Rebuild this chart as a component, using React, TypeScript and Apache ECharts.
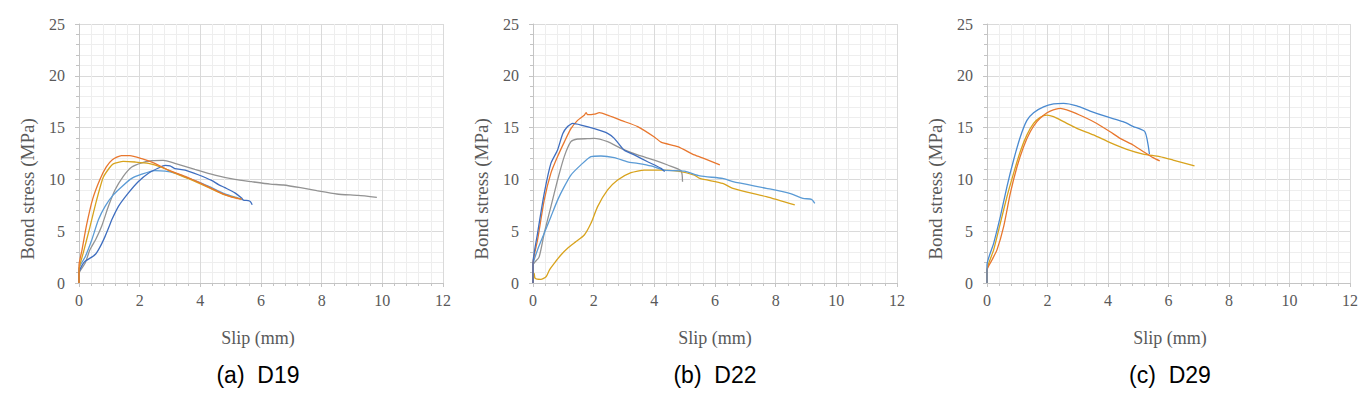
import React, { useEffect, useRef } from "react";
import * as echarts from "echarts";

// ---------- data (slip mm, bond stress MPa) ----------
const xTicks = [0, 2, 4, 6, 8, 10, 12];
const yTicks = [0, 5, 10, 15, 20, 25];
const panelCaptions = ["(a)  D19", "(b)  D22", "(c)  D29"];
const xAxisTitle = "Slip (mm)";
const yAxisTitle = "Bond stress (MPa)";

// Panel (a) D19
const d19Orange = [[0, 0], [0, 1.7], [0.1, 3.2], [0.25, 5.6], [0.45, 8.1], [0.69, 10.0], [0.9, 11.2], [1.1, 11.9], [1.4, 12.3], [1.68, 12.3], [2.07, 12.0], [2.5, 11.55], [2.95, 10.9], [3.5, 10.3], [4.04, 9.6], [4.6, 8.8], [5.03, 8.3], [5.36, 8.1]];
const d19Gold = [[0, 0], [0, 1.25], [0.14, 2.9], [0.36, 5.4], [0.58, 8.0], [0.8, 10.2], [1.0, 11.1], [1.13, 11.5], [1.46, 11.74], [1.85, 11.68], [2.29, 11.55], [2.73, 11.16], [3.16, 10.6], [3.71, 9.94], [4.26, 9.23], [4.81, 8.5], [5.25, 8.17], [5.35, 8.1]];
const d19Gray = [[0, 0], [0, 0.9], [0.2, 1.9], [0.36, 3.2], [0.55, 4.2], [0.75, 5.5], [0.97, 7.4], [1.19, 9.0], [1.46, 10.3], [1.74, 11.2], [2.07, 11.6], [2.4, 11.8], [2.78, 11.84], [3.16, 11.55], [3.82, 10.97], [4.48, 10.42], [5.14, 10.0], [5.69, 9.78], [6.3, 9.55], [6.74, 9.46], [7.3, 9.2], [7.84, 8.91], [8.5, 8.59], [9.2, 8.45], [9.82, 8.27]];
const d19LightBlue = [[0, 0], [0, 1.4], [0.2, 2.5], [0.42, 4.15], [0.64, 6.1], [0.86, 7.4], [1.13, 8.5], [1.41, 9.3], [1.74, 10.1], [2.07, 10.5], [2.5, 10.85], [2.84, 10.8], [3.16, 10.6], [3.71, 10.0], [4.26, 9.35], [4.81, 8.6], [5.25, 8.2], [5.4, 8.05]];
const d19DarkBlue = [[0, 0], [0, 1.0], [0.1, 1.7], [0.2, 2.1], [0.42, 2.5], [0.55, 2.8], [0.64, 3.2], [0.75, 3.8], [0.86, 4.5], [1.0, 5.5], [1.08, 6.1], [1.3, 7.4], [1.63, 8.7], [1.96, 9.8], [2.29, 10.6], [2.62, 11.1], [2.84, 11.35], [3.0, 11.3], [3.16, 11.05], [3.5, 10.9], [3.93, 10.45], [4.37, 9.9], [4.6, 9.5], [4.81, 9.2], [5.14, 8.7], [5.36, 8.2], [5.42, 8.0], [5.58, 7.95], [5.65, 7.85], [5.71, 7.55]];

// Panel (b) D22
const d22Orange = [[0, 0], [0, 1.9], [0.15, 4.15], [0.37, 8.0], [0.59, 10.6], [0.81, 12.2], [1.03, 13.6], [1.25, 14.9], [1.47, 15.7], [1.69, 16.2], [1.75, 16.45], [1.8, 16.25], [2.02, 16.3], [2.19, 16.44], [2.46, 16.2], [2.9, 15.7], [3.45, 15.1], [4.0, 14.1], [4.22, 13.6], [4.77, 13.16], [5.32, 12.36], [5.65, 12.0], [6.16, 11.4]];
const d22DarkBlue = [[0, 0], [0, 1.9], [0.15, 4.8], [0.37, 8.65], [0.59, 11.55], [0.81, 12.84], [0.98, 14.4], [1.14, 15.1], [1.31, 15.4], [1.58, 15.25], [2.02, 14.9], [2.46, 14.45], [2.68, 13.96], [3.0, 12.84], [3.34, 12.36], [3.78, 11.7], [4.22, 11.07], [4.34, 10.75]];
const d22Gray = [[0, 0], [0, 1.74], [0.2, 2.5], [0.37, 4.8], [0.59, 7.37], [0.81, 9.94], [1.03, 12.2], [1.25, 13.64], [1.47, 13.9], [1.8, 13.93], [2.02, 13.96], [2.46, 13.64], [2.9, 13.0], [3.45, 12.36], [4.0, 11.87], [4.44, 11.39], [4.88, 10.84], [4.93, 9.78]];
const d22LightBlue = [[0, 0], [0, 1.74], [0.15, 3.2], [0.37, 4.8], [0.59, 6.4], [0.81, 8.0], [1.03, 9.3], [1.25, 10.42], [1.58, 11.4], [1.91, 12.2], [2.24, 12.26], [2.68, 12.1], [3.12, 11.7], [3.45, 11.55], [3.89, 11.3], [4.33, 10.9], [4.99, 10.8], [5.5, 10.33], [6.25, 10.1], [6.59, 9.78], [7.69, 9.14], [8.46, 8.66], [8.9, 8.17], [9.18, 8.08], [9.29, 7.69]];
const d22Gold = [[0, 0], [0.04, 0.93], [0.07, 0.45], [0.26, 0.35], [0.43, 0.6], [0.54, 1.25], [0.7, 1.9], [0.92, 2.7], [1.14, 3.35], [1.42, 4.0], [1.69, 4.63], [1.91, 5.76], [2.13, 7.37], [2.46, 8.98], [2.79, 9.94], [3.23, 10.65], [3.67, 10.9], [4.22, 10.9], [4.77, 10.8], [5.32, 10.42], [5.5, 10.1], [6.25, 9.62], [6.59, 9.14], [7.69, 8.33], [8.63, 7.53]];

// Panel (c) D29
const d29Blue = [[0, 0], [0, 1.74], [0.22, 3.83], [0.44, 6.4], [0.66, 9.3], [0.88, 11.87], [1.1, 14.1], [1.32, 15.7], [1.54, 16.44], [1.87, 17.0], [2.2, 17.28], [2.53, 17.34], [2.97, 17.1], [3.41, 16.6], [3.96, 16.05], [4.5, 15.57], [4.84, 15.1], [5.22, 14.6], [5.37, 12.45]];
const d29Orange = [[0, 0], [0, 1.25], [0.16, 2.2], [0.33, 3.2], [0.55, 5.44], [0.77, 8.65], [0.99, 11.2], [1.21, 13.16], [1.43, 14.6], [1.65, 15.57], [1.87, 16.2], [2.09, 16.6], [2.42, 16.86], [2.75, 16.6], [3.19, 16.05], [3.63, 15.4], [4.07, 14.6], [4.4, 13.96], [4.84, 13.3], [5.16, 12.7], [5.49, 12.1], [5.71, 11.78]];
const d29Gold = [[0, 0], [0, 1.25], [0.22, 3.2], [0.44, 5.76], [0.66, 8.33], [0.88, 10.6], [1.1, 12.7], [1.32, 14.3], [1.54, 15.4], [1.76, 16.0], [1.98, 16.2], [2.2, 16.05], [2.53, 15.57], [2.97, 14.93], [3.52, 14.3], [4.07, 13.55], [4.62, 12.9], [5.16, 12.45], [5.71, 12.2], [6.15, 11.87], [6.86, 11.3]];

const C_ORANGE = "#E8772E";
const C_GOLD = "#D8A31D";
const C_GRAY = "#939393";
const C_LBLUE = "#5B9BD5";
const C_DBLUE = "#3F6EBF";
const C_BLUE3 = "#4A8AD0";

const panels = [
  { left: 79, width: 364, center: 258, lines: [[d19Gray, C_GRAY], [d19LightBlue, C_LBLUE], [d19DarkBlue, C_DBLUE], [d19Gold, C_GOLD], [d19Orange, C_ORANGE]] },
  { left: 533, width: 364, center: 715, lines: [[d22Gray, C_GRAY], [d22Gold, C_GOLD], [d22LightBlue, C_LBLUE], [d22Orange, C_ORANGE], [d22DarkBlue, C_DBLUE]] },
  { left: 987, width: 363, center: 1170, lines: [[d29Gold, C_GOLD], [d29Orange, C_ORANGE], [d29Blue, C_BLUE3]] },
];

const SERIF = "'Liberation Serif', 'Times New Roman', serif";
const SANS = "'Liberation Sans', Arial, sans-serif";

export default function App() {
  const ref = useRef<HTMLDivElement>(null);
  useEffect(() => {
    if (!ref.current) return;
    const chart = echarts.init(ref.current, undefined, { renderer: "svg" });
    const grids: any[] = [];
    const xAxes: any[] = [];
    const yAxes: any[] = [];
    const series: any[] = [];
    const graphics: any[] = [];
    panels.forEach((p, i) => {
      grids.push({ left: p.left, top: 24, width: p.width, height: 259 });
      xAxes.push({
        type: "value", gridIndex: i, min: xTicks[0], max: xTicks[xTicks.length - 1], interval: 2,
        axisLine: { show: true, lineStyle: { color: "#c4c4c4", width: 1 } },
        axisTick: { show: true, length: 4, lineStyle: { color: "#c4c4c4" } },
        minorTick: { show: true, splitNumber: 5, length: 3, lineStyle: { color: "#c4c4c4" } },
        splitLine: { show: true, lineStyle: { color: "#dadada", width: 1 } },
        minorSplitLine: { show: true, lineStyle: { color: "#eeeeee", width: 1 } },
        axisLabel: { fontFamily: SERIF, fontSize: 16, color: "#595959", margin: 9 },
      });
      yAxes.push({
        type: "value", gridIndex: i, min: yTicks[0], max: yTicks[yTicks.length - 1], interval: 5,
        axisLine: { show: true, lineStyle: { color: "#c4c4c4", width: 1 } },
        axisTick: { show: true, length: 4, lineStyle: { color: "#c4c4c4" } },
        minorTick: { show: true, splitNumber: 5, length: 3, lineStyle: { color: "#c4c4c4" } },
        splitLine: { show: true, lineStyle: { color: "#dadada", width: 1 } },
        minorSplitLine: { show: true, lineStyle: { color: "#eeeeee", width: 1 } },
        axisLabel: { fontFamily: SERIF, fontSize: 16, color: "#595959", margin: 14 },
      });
      p.lines.forEach(([data, color]) => {
        series.push({
          type: "line", xAxisIndex: i, yAxisIndex: i, data, showSymbol: false, symbol: "none",
          smooth: 0.2, lineStyle: { color, width: 1.3 }, itemStyle: { color }, silent: true,
        });
      });
      graphics.push({
        type: "text", x: p.left - 52, y: 189, rotation: Math.PI / 2,
        style: { text: yAxisTitle, fontFamily: SERIF, fontSize: 19, fill: "#595959", align: "center", verticalAlign: "middle" },
      });
      graphics.push({
        type: "text", x: p.center, y: 338,
        style: { text: xAxisTitle, fontFamily: SERIF, fontSize: 18, fill: "#595959", align: "center", verticalAlign: "middle" },
      });
      graphics.push({
        type: "text", x: p.center, y: 375,
        style: { text: panelCaptions[i], fontFamily: SANS, fontSize: 23, fill: "#000000", align: "center", verticalAlign: "middle" },
      });
    });
    chart.setOption({
      animation: false,
      backgroundColor: "#ffffff",
      grid: grids,
      xAxis: xAxes,
      yAxis: yAxes,
      series,
      graphic: graphics,
    });
    return () => chart.dispose();
  }, []);
  return (
    <div
      ref={ref}
      style={{ position: "fixed", left: 0, top: 0, width: 1369, height: 398, background: "#fff" }}
    />
  );
}
